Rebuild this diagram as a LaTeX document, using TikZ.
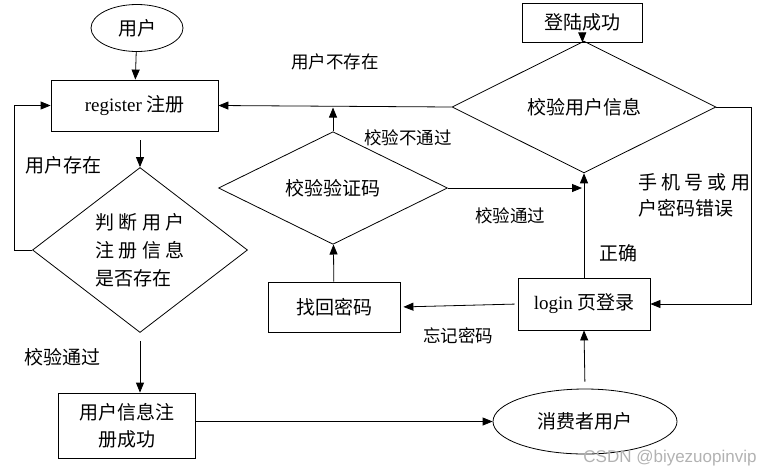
\documentclass[tikz,border=0pt]{standalone}
\usepackage{fontspec}
\setmainfont{Liberation Serif}
\newfontfamily\cjk{Noto Sans CJK SC}
\newfontfamily\wmfont{Liberation Sans}
\usetikzlibrary{shapes.geometric,arrows.meta}
\begin{document}
\begin{tikzpicture}[x=1pt,y=-1pt]
    \tikzset{% This is the style settings for nodes
    blk/.style={rectangle,draw,line width=0.8pt,inner sep=0pt,font=\cjk\fontsize{19}{27}\selectfont},
    ell/.style={ellipse,draw,line width=0.8pt,inner sep=0pt,font=\cjk\fontsize{19}{27}\selectfont},
    dia/.style={diamond,draw,line width=0.8pt,inner sep=0pt,font=\cjk\fontsize{19}{28}\selectfont},
    lab/.style={font=\cjk\fontsize{17.5}{26}\selectfont},
    labb/.style={font=\cjk\fontsize{19}{26}\selectfont},
    c0/.style={line width=0.8pt},
    c1/.style={line width=0.8pt,-{Triangle[length=10pt,width=8pt]}},
    }
    \useasboundingbox (0,0) rectangle (775,475);
    % Nodes
    \node[ell] (n1) at (137,28) [minimum width=92,minimum height=47] {用户};
    \node[blk] (n2) at (134.5,105.5) [minimum width=167,minimum height=51] {{\rmfamily register} 注册};
    \node[dia] (n3) at (140,250) [minimum width=215,minimum height=165,align=left] {判 断 用 户\\注 册 信 息\\是否存在};
    \node[blk] (n4) at (126.5,425.5) [minimum width=137,minimum height=65,align=center] {用户信息注\\册成功};
    \node[ell] (n5) at (585,421.5) [minimum width=184,minimum height=65] {消费者用户};
    \node[blk] (n6) at (584,304) [minimum width=132,minimum height=52] {{\rmfamily login} 页登录};
    \node[blk] (n7) at (334,307) [minimum width=132,minimum height=50] {找回密码};
    \node[dia] (n8) at (333,188) [minimum width=229,minimum height=83] {校验验证码};
    \node[dia] (n9) at (584,107) [minimum width=264,minimum height=86] {校验用户信息};
    \node[blk] (n10) at (582,22.5) [minimum width=120,minimum height=39] {登陆成功};

    % Labels
    \node[lab] (l1) at (335,62) {用户不存在};
    \node[lab] (l2) at (408,138) {校验不通过};
    \node[lab] (l3) at (510,216) {校验通过};
    \node[lab] (l4) at (458,336) {忘记密码};
    \node[labb] (l5) at (63,165) {用户存在};
    \node[labb] (l6) at (62,357) {校验通过};
    \node[labb] (l7) at (618,253) {正确};
    \node[labb,align=left] (l8) at (694,195) {手 机 号 或 用\\户密码错误};
    \node[font=\wmfont\fontsize{17}{20}\selectfont,text=gray!60] (wm) at (670,458) {CSDN @biyezuopinvip};

    %Edges
    \draw[c1] (n1) -- (n2);
    \draw[c1,shorten <=9pt] (n2.south -| n3.north) -- (n3.north);
    \draw[c1] (n3.west) -- ++(-18,0) |- (n2.west);
    \draw[c1,shorten <=8pt] (n3.south) -- (n3.south |- n4.north);
    \draw[c1] (n4.east |- n5.west) -- (n5.west);
    \draw[c1,shorten <=7pt] (n5.north) -- (n6.south);
    \draw[c1,shorten <=3pt,shorten >=3pt] (n6.west) -- (n7.east);
    \draw[c1] (n7) -- (n8);
    \draw[c1,shorten >=2pt] (n8.north) -- (n8.north |- n2.east);
    \draw[c1,shorten >=2pt] (n8.east) -- (n9.south |- n8.east);
    \draw[c1] (n6) -- (n9);
    \draw[c1] (n9) -- (n10);
    \draw[c1] (n9.west) -- (n2.east);
    \draw[c1] (n9.east) -- ++(35,0) |- (n6.east);

\end{tikzpicture}
\end{document}
